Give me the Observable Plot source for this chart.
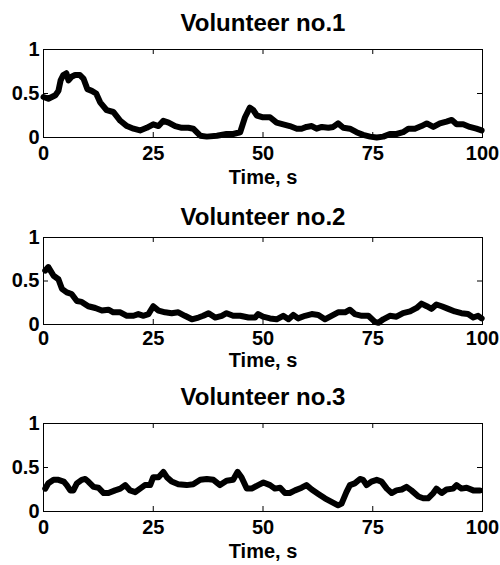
<!DOCTYPE html>
<html>
<head>
<meta charset="utf-8">
<script src="https://cdn.jsdelivr.net/npm/d3@7"></script>
<script src="https://cdn.jsdelivr.net/npm/@observablehq/plot@0.6"></script>
<style>
  html, body { margin: 0; padding: 0; background: white; }
  #chart { width: 500px; display: flex; flex-direction: column; }
  #chart svg { display: block; }
  #chart g[aria-label="panel title"] text { letter-spacing: 0.6px; }
  #chart g[aria-label="axis title"] text { letter-spacing: 0.8px; }
</style>
</head>
<body>
<div id="chart"></div>
<script>
// Tick labels
const xTicks = [0, 25, 50, 75, 100];
const yTicks = [0, 0.5, 1];
const titles = ["Volunteer no.1", "Volunteer no.2", "Volunteer no.3"];
const xLabel = "Time, s";

// Volunteer no.1
const time1 = [0, 1.1, 2.7, 3.4, 3.9, 4.5, 5.2, 5.7, 6.4, 7.2, 8.3, 9.1, 10, 11, 12, 12.9, 14.4, 15.9, 17.5, 19, 20.5, 22, 23.5, 25, 26.2, 27.3, 28.5, 30, 31.5, 33, 34.1, 35.7, 37.2, 39.5, 41.7, 43.2, 44.8, 45.9, 47, 47.8, 48.6, 50, 51.6, 53.1, 54.6, 56.1, 57.7, 58.8, 59.9, 61.1, 62.2, 63.4, 64.9, 66, 67.1, 68.3, 69.8, 71.3, 72.8, 74.4, 75.9, 77.4, 78.9, 80.4, 81.9, 83.1, 84.6, 86.1, 87.3, 88.8, 90.3, 91.8, 93, 94.1, 95.6, 97.1, 98.6, 99.8];
const vol1 = [0.46, 0.44, 0.48, 0.53, 0.65, 0.71, 0.73, 0.65, 0.69, 0.71, 0.71, 0.67, 0.55, 0.53, 0.50, 0.40, 0.31, 0.29, 0.19, 0.13, 0.10, 0.08, 0.11, 0.15, 0.13, 0.19, 0.17, 0.13, 0.11, 0.11, 0.10, 0.02, 0.01, 0.02, 0.04, 0.04, 0.06, 0.23, 0.34, 0.31, 0.25, 0.23, 0.23, 0.17, 0.15, 0.13, 0.10, 0.10, 0.12, 0.13, 0.10, 0.12, 0.11, 0.12, 0.16, 0.11, 0.10, 0.06, 0.03, 0.01, 0.00, 0.01, 0.04, 0.04, 0.06, 0.10, 0.10, 0.13, 0.16, 0.12, 0.16, 0.18, 0.20, 0.15, 0.15, 0.12, 0.10, 0.08];

// Volunteer no.2
const time2 = [0.4, 1.1, 2.3, 3.4, 4.2, 5.3, 6.4, 7.6, 8.7, 10.2, 11.8, 13.3, 14.8, 15.9, 17.5, 19, 20.5, 21.6, 22.8, 23.9, 25, 26.2, 27.7, 29.2, 30.7, 32.2, 33.8, 35.3, 36.4, 37.6, 39.1, 40.6, 41.7, 43.2, 44.8, 46.7, 48.2, 48.9, 50, 51.6, 53.1, 54.6, 55.8, 56.9, 58, 59.6, 61.1, 62.6, 64.1, 65.6, 67.1, 68.7, 69.8, 70.9, 72.5, 74, 75.5, 76.3, 77.4, 78.9, 80.4, 81.9, 83.5, 85, 86.1, 87.3, 88.4, 89.5, 90.7, 92.2, 93.7, 95.2, 96.7, 97.9, 99, 99.8];
const vol2 = [0.62, 0.66, 0.56, 0.52, 0.41, 0.37, 0.35, 0.27, 0.26, 0.21, 0.19, 0.16, 0.17, 0.14, 0.14, 0.10, 0.10, 0.12, 0.10, 0.12, 0.21, 0.16, 0.14, 0.13, 0.14, 0.10, 0.06, 0.08, 0.10, 0.13, 0.08, 0.10, 0.13, 0.10, 0.10, 0.08, 0.08, 0.12, 0.09, 0.07, 0.06, 0.10, 0.06, 0.11, 0.07, 0.10, 0.12, 0.11, 0.06, 0.10, 0.14, 0.14, 0.17, 0.12, 0.10, 0.10, 0.03, 0.02, 0.06, 0.10, 0.09, 0.13, 0.15, 0.19, 0.24, 0.21, 0.18, 0.23, 0.21, 0.18, 0.15, 0.13, 0.12, 0.08, 0.10, 0.07];

// Volunteer no.3
const time3 = [0.4, 1.1, 2.3, 3.4, 4.6, 5.3, 6.1, 6.8, 7.6, 8.7, 9.5, 10.2, 11.4, 12.5, 13.7, 14.8, 16.3, 17.5, 18.6, 19.7, 20.9, 22, 23.1, 24.3, 25, 26.2, 27.3, 28.1, 29.2, 30.7, 32.6, 34.1, 35.7, 37.2, 38.7, 40.2, 41.7, 43.2, 44.2, 45.1, 46.3, 47.4, 48.9, 50.1, 51.6, 52.7, 53.9, 55, 56.1, 57.3, 58.8, 59.9, 61.1, 62.6, 64.1, 65.6, 67.1, 67.9, 69, 69.8, 70.9, 72.1, 72.8, 73.6, 74.7, 75.9, 77, 78.2, 79.3, 80.4, 81.6, 82.7, 83.8, 85.4, 86.5, 87.6, 88.8, 89.5, 90.7, 91.8, 93.3, 94.1, 95.2, 96.4, 97.9, 99.4];
const vol3 = [0.26, 0.32, 0.36, 0.36, 0.34, 0.30, 0.24, 0.24, 0.32, 0.36, 0.37, 0.34, 0.28, 0.27, 0.21, 0.21, 0.24, 0.26, 0.30, 0.24, 0.22, 0.26, 0.30, 0.30, 0.39, 0.39, 0.45, 0.39, 0.34, 0.31, 0.30, 0.31, 0.36, 0.37, 0.36, 0.30, 0.35, 0.36, 0.45, 0.39, 0.26, 0.26, 0.30, 0.33, 0.30, 0.26, 0.27, 0.21, 0.21, 0.24, 0.27, 0.30, 0.25, 0.20, 0.15, 0.11, 0.07, 0.09, 0.22, 0.30, 0.32, 0.37, 0.36, 0.30, 0.34, 0.36, 0.34, 0.26, 0.21, 0.24, 0.25, 0.28, 0.24, 0.17, 0.15, 0.15, 0.21, 0.26, 0.21, 0.25, 0.26, 0.30, 0.26, 0.27, 0.24, 0.24];

const series = [
  {t: time1, v: vol1},
  {t: time2, v: vol2},
  {t: time3, v: vol3}
];

// layout per panel (pixels)
const layouts = [
  {height: 190, marginTop: 49, marginBottom: 53, titleDy: -26, labelDy: 40, tickPad: 8},
  {height: 185, marginTop: 47, marginBottom: 51, titleDy: -20, labelDy: 36, tickPad: 6},
  {height: 190, marginTop: 48, marginBottom: 54, titleDy: -26, labelDy: 40, tickPad: 8}
];

const FONT = "'Liberation Sans', Arial, Helvetica, sans-serif";
const TICK = 5;

const container = document.getElementById("chart");

series.forEach((s, i) => {
  const L = layouts[i];
  const data = s.t.map((t, j) => ({t, v: s.v[j]}));
  const innerH = L.height - L.marginTop - L.marginBottom;
  const marginLeft = 43, marginRight = 18;
  const innerW = 500 - marginLeft - marginRight;
  const chart = Plot.plot({
    width: 500,
    height: L.height,
    marginLeft,
    marginRight,
    marginTop: L.marginTop,
    marginBottom: L.marginBottom,
    style: {fontFamily: FONT, fontWeight: "bold", color: "black", background: "white", overflow: "visible"},
    x: {domain: [0, 100]},
    y: {domain: [0, 1]},
    marks: [
      Plot.frame({stroke: "black", strokeWidth: 1}),
      // inward ticks, bottom and top
      Plot.tickX(xTicks, {x: d => d, stroke: "black", strokeWidth: 1, insetTop: innerH - TICK}),
      Plot.tickX(xTicks, {x: d => d, stroke: "black", strokeWidth: 1, insetBottom: innerH - TICK}),
      // inward ticks, left and right
      Plot.tickY(yTicks, {y: d => d, stroke: "black", strokeWidth: 1, insetRight: innerW - TICK}),
      Plot.tickY(yTicks, {y: d => d, stroke: "black", strokeWidth: 1, insetLeft: innerW - TICK}),
      Plot.axisX({anchor: "bottom", ticks: xTicks, tickSize: 0, tickPadding: L.tickPad, fontSize: 20, fontWeight: "bold", label: null, tickFormat: d => String(d)}),
      Plot.axisY({anchor: "left", ticks: yTicks, tickSize: 0, tickPadding: 4, fontSize: 20, fontWeight: "bold", label: null, tickFormat: d => String(d)}),
      Plot.line(data, {x: "t", y: "v", stroke: "black", strokeWidth: 6, strokeLinejoin: "round", strokeLinecap: "round"}),
      Plot.text([titles[i]], {text: d => d, ariaLabel: "panel title", frameAnchor: "top", lineAnchor: "middle", dy: L.titleDy, fontSize: 24, fontWeight: "bold", fill: "black"}),
      Plot.text([xLabel], {text: d => d, ariaLabel: "axis title", frameAnchor: "bottom", lineAnchor: "middle", dy: L.labelDy, fontSize: 20, fontWeight: "bold", fill: "black"})
    ]
  });
  container.appendChild(chart);
});
</script>
</body>
</html>
